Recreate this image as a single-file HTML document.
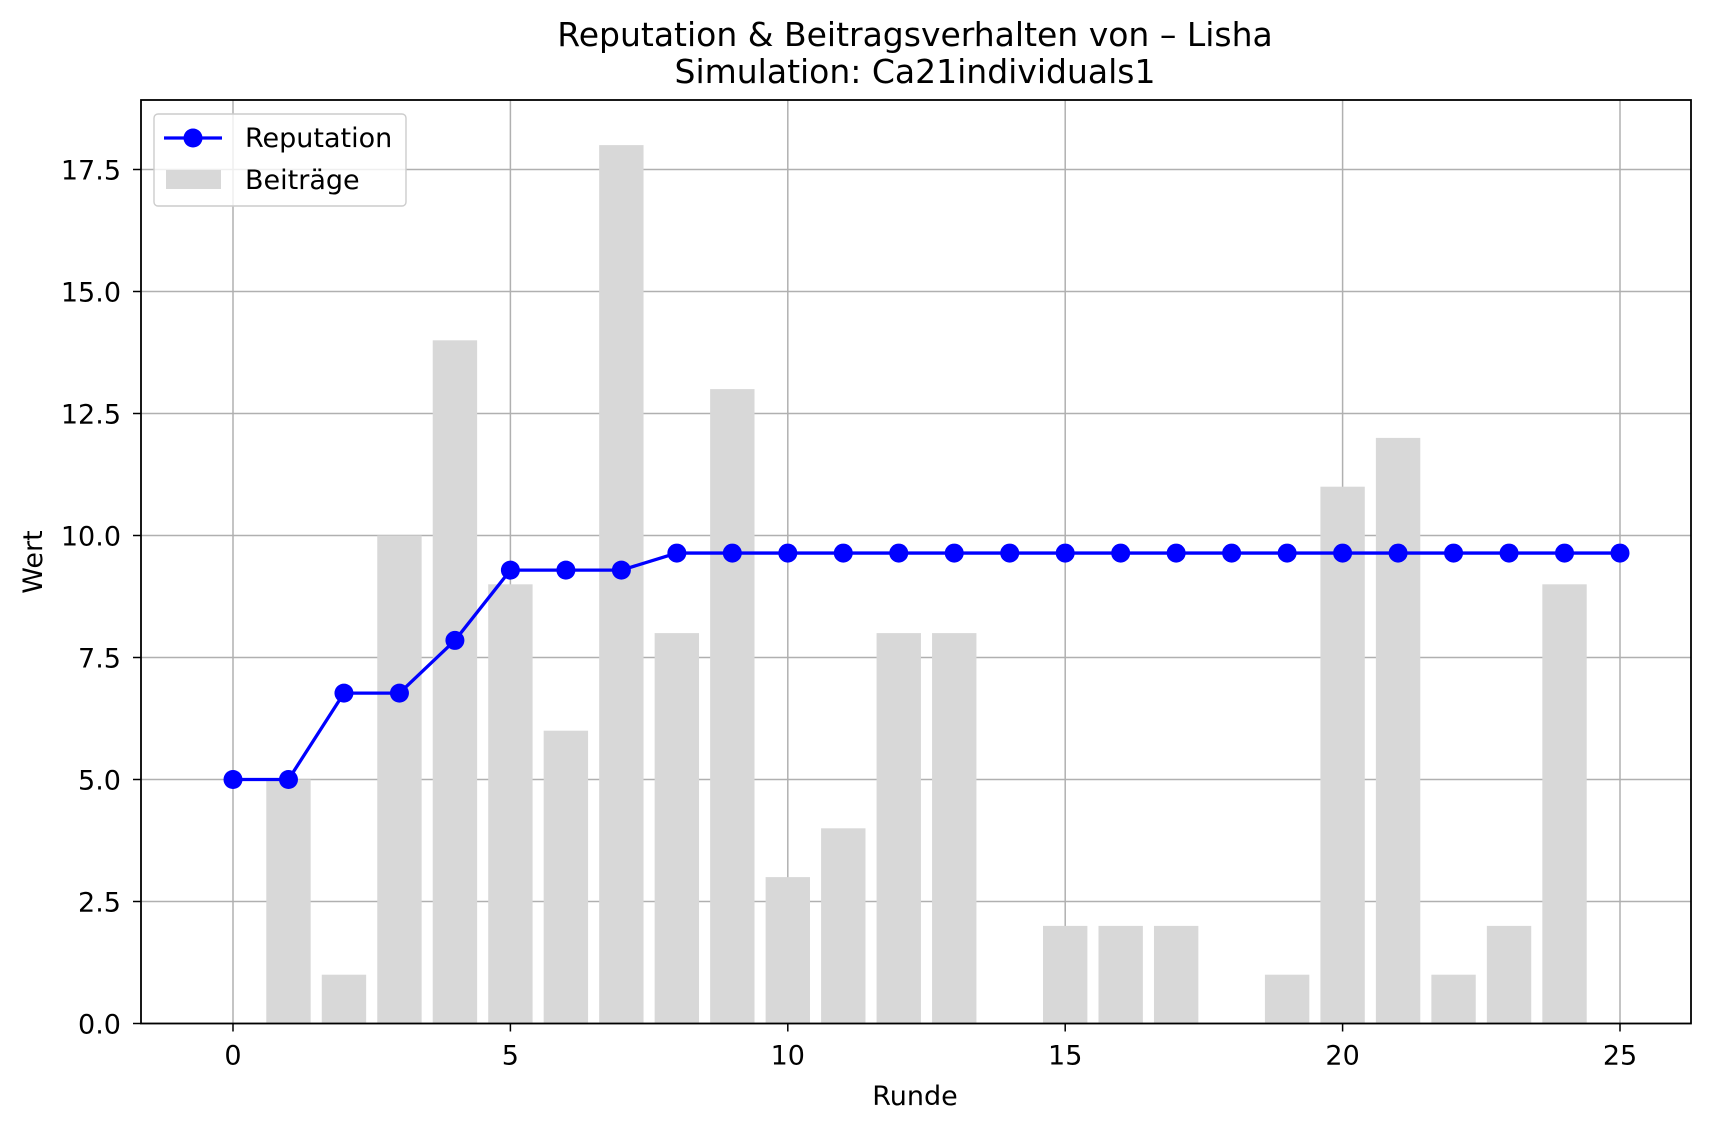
<!DOCTYPE html>
<html><head><meta charset="utf-8">
<style>
html,body{margin:0;padding:0;background:#fff;}
svg{display:block;font-family:"DejaVu Sans","Liberation Sans",sans-serif;}
</style></head>
<body>
<svg id="chart" width="1710" height="1131" viewBox="0 0 1710 1131" xmlns="http://www.w3.org/2000/svg">
<rect width="1710" height="1131" fill="#fff"/>
<text x="915" y="46" font-size="33" text-anchor="middle">Reputation &amp; Beitragsverhalten von – Lisha</text>
<text x="915" y="83" font-size="33" text-anchor="middle">Simulation: Ca21individuals1</text>
<g id="grid"></g>
<g id="bars"></g>
<g id="line"></g>
<rect x="141" y="100" width="1550" height="923.5" fill="none" stroke="#000" stroke-width="1.8"/>
<g id="ticks"></g>
<text x="915" y="1105" font-size="27" text-anchor="middle">Runde</text>
<text x="0" y="0" font-size="27" text-anchor="middle" transform="translate(42,562) rotate(-90)">Wert</text>
<g>
<rect x="154" y="114" width="252" height="92" rx="4" fill="#fff" fill-opacity="0.8" stroke="#ccc" stroke-width="1.4"/>
<line x1="164" y1="138" x2="222" y2="138" stroke="#0000ff" stroke-width="3.3"/>
<circle cx="193" cy="138" r="9.5" fill="#0000ff"/>
<text x="245" y="147" font-size="27">Reputation</text>
<rect x="166" y="170" width="55" height="19" fill="#d8d8d8"/>
<text x="245" y="189" font-size="27">Beiträge</text>
</g>
</svg>
<script>
const rounds = [0,1,2,3,4,5,6,7,8,9,10,11,12,13,14,15,16,17,18,19,20,21,22,23,24,25];
const contributions = [0,5,1,10,14,9,6,18,8,13,3,4,8,8,0,2,2,2,0,1,11,12,1,2,9,0];
const reputation = [5,5,6.77,6.77,7.85,9.29,9.29,9.29,9.64,9.64,9.64,9.64,9.64,9.64,9.64,9.64,9.64,9.64,9.64,9.64,9.64,9.64,9.64,9.64,9.64,9.64];
const xTicks = [0,5,10,15,20,25];
const yTicks = [0,2.5,5,7.5,10,12.5,15,17.5];
const yTickLabels = ["0.0","2.5","5.0","7.5","10.0","12.5","15.0","17.5"];

const NS="http://www.w3.org/2000/svg";
const X0=233, XU=55.48, Y0=1023.5, YU=48.8, L=141, R=1691, T=100;
function xs(v){return X0+v*XU;}
function ys(v){return Y0-v*YU;}
function mk(tag,attrs,parent){const e=document.createElementNS(NS,tag);for(const k in attrs)e.setAttribute(k,attrs[k]);parent.appendChild(e);return e;}
const grid=document.getElementById('grid'),bars=document.getElementById('bars'),line=document.getElementById('line'),ticks=document.getElementById('ticks');
xTicks.forEach(t=>{
  const g=mk('line',{x1:xs(t),x2:xs(t),y1:T,y2:Y0,stroke:'#b0b0b0','stroke-width':1.5},grid);
  
  
  mk('line',{x1:xs(t),x2:xs(t),y1:Y0,y2:Y0+8,stroke:'#000','stroke-width':1.5},ticks);
  const tx=mk('text',{x:xs(t),y:Y0+41,'font-size':27,'text-anchor':'middle'},ticks);
  tx.textContent=t;
  
  
});
yTicks.forEach((t,i)=>{
  const g=mk('line',{x1:L,x2:R,y1:ys(t),y2:ys(t),stroke:'#b0b0b0','stroke-width':1.5},grid);
  
  
  mk('line',{x1:L-8,x2:L,y1:ys(t),y2:ys(t),stroke:'#000','stroke-width':1.5},ticks);
  const tx=mk('text',{x:L-20,y:ys(t)+10,'font-size':27,'text-anchor':'end'},ticks);
  tx.textContent=yTickLabels[i];
  
  
});
rounds.forEach((r,i)=>{
  const v=contributions[i]; if(!v) return;
  const b=mk('rect',{x:xs(r-0.4),y:ys(v),width:0.8*XU,height:v*YU,fill:'#d8d8d8'},bars);
  
  
});
const pts=rounds.map((r,i)=>xs(r)+','+ys(reputation[i])).join(' ');
const pl=mk('polyline',{points:pts,fill:'none',stroke:'#0000ff','stroke-width':3.3},line);


rounds.forEach((r,i)=>{
  const c=mk('circle',{cx:xs(r),cy:ys(reputation[i]),r:9.5,fill:'#0000ff'},line);
  
  
});
</script>
</body></html>
